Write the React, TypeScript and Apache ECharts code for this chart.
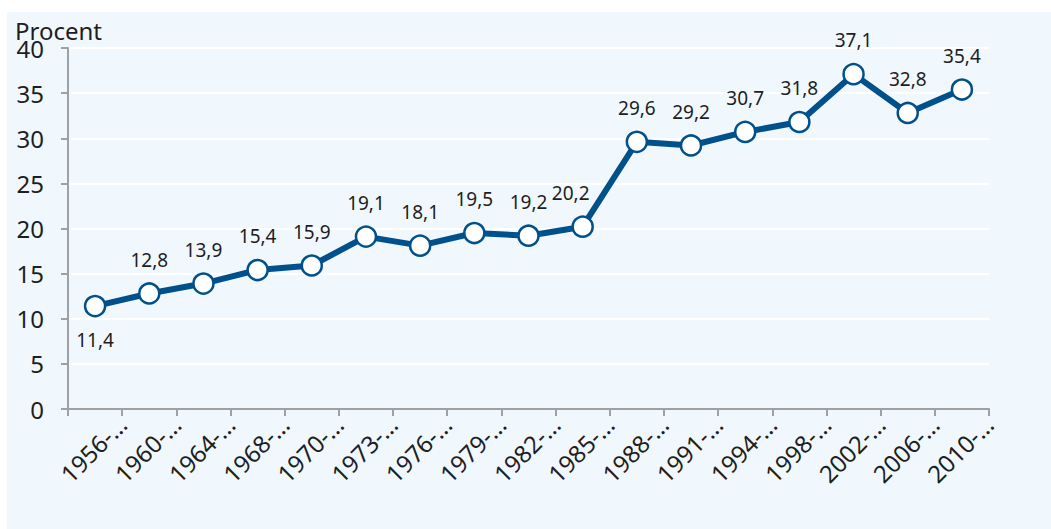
import React, { useEffect, useRef } from "react";
import * as echarts from "echarts";

const categories = ["1956-…", "1960-…", "1964-…", "1968-…", "1970-…", "1973-…", "1976-…", "1979-…", "1982-…", "1985-…", "1988-…", "1991-…", "1994-…", "1998-…", "2002-…", "2006-…", "2010-…"];
const values = [11.4, 12.8, 13.9, 15.4, 15.9, 19.1, 18.1, 19.5, 19.2, 20.2, 29.6, 29.2, 30.7, 31.8, 37.1, 32.8, 35.4];
const yTitle = "Procent";

const FONT = "'Noto Sans', 'Open Sans', sans-serif";
const BLUE = "#00508c";
const AXIS = "#a0a0a0";
const TXT = "#1e1e1e";

export default function App() {
  const ref = useRef<HTMLDivElement>(null);
  useEffect(() => {
    const chart = echarts.init(ref.current!, null, { renderer: "svg" });
    const data = values.map((v, i) => {
      const d: any = { value: v };
      if (i === 0) d.label = { position: "bottom" };
      if (i === 9) d.label = { offset: [-12, 0] };
      return d;
    });
    chart.setOption({
      animation: false,
      backgroundColor: "#f0f8fe",
      textStyle: { fontFamily: FONT },
      graphic: [
        {
          type: "text",
          left: 8,
          top: 6,
          style: { text: yTitle, fontSize: 24, fontFamily: FONT, fill: TXT },
        },
      ],
      grid: { left: 61, right: 62, top: 36, bottom: 120, containLabel: false },
      xAxis: [
        {
          type: "category",
          data: categories,
          boundaryGap: true,
          axisLine: { lineStyle: { color: AXIS, width: 2 } },
          axisTick: { show: true, length: 7, lineStyle: { color: AXIS, width: 2 } },
          axisLabel: { show: false },
          splitLine: { show: false },
        },
        {
          type: "value",
          position: "bottom",
          min: 0,
          max: categories.length,
          interval: 1,
          axisLine: { show: false },
          axisTick: { show: false },
          splitLine: { show: false },
          axisLabel: {
            show: true,
            rotate: 45,
            margin: 11,
            fontSize: 24,
            color: TXT,
            fontFamily: FONT,
            showMinLabel: true,
            showMaxLabel: true,
            formatter: (v: number) => (v >= 1 ? categories[Math.round(v) - 1] : ""),
          },
        },
      ],
      yAxis: {
        type: "value",
        min: 0,
        max: 40,
        interval: 5,
        axisLine: { show: true, lineStyle: { color: AXIS, width: 2 } },
        axisTick: { show: true, length: 7, lineStyle: { color: AXIS, width: 2 } },
        axisLabel: { fontSize: 24, color: TXT, margin: 24, fontFamily: FONT },
        splitLine: { show: true, lineStyle: { color: "#ffffff", width: 2 } },
      },
      series: [
        {
          type: "line",
          xAxisIndex: 0,
          data,
          lineStyle: { color: BLUE, width: 6 },
          itemStyle: { color: "#ffffff", borderColor: BLUE, borderWidth: 2.5 },
          symbol: "circle",
          symbolSize: 20,
          label: {
            show: true,
            position: "top",
            distance: 13,
            fontSize: 19,
            color: TXT,
            fontFamily: FONT,
            formatter: (p: any) => String(p.value).replace(".", ","),
          },
        },
      ],
    });
    return () => chart.dispose();
  }, []);
  return (
    <div
      ref={ref}
      style={{ position: "absolute", left: 7, top: 12, width: 1044, height: 517 }}
    />
  );
}
